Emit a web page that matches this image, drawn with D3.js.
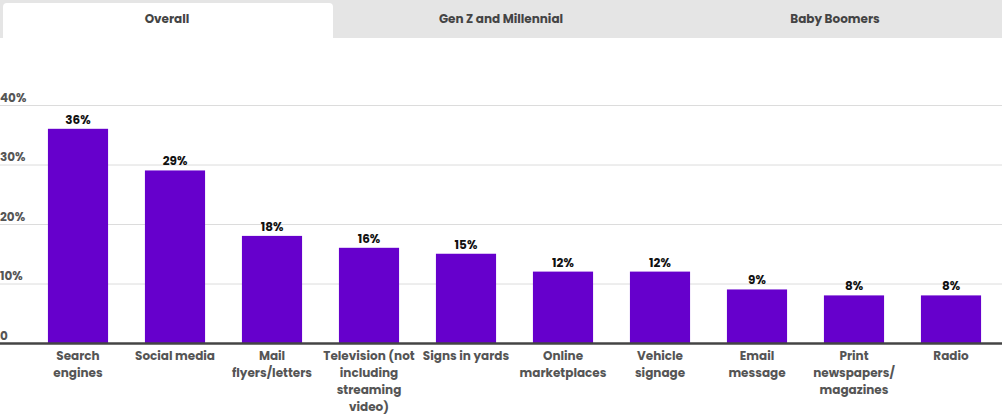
<!DOCTYPE html>
<html lang="en">
<head>
<meta charset="UTF-8">
<title>Overall</title>
<script src="https://cdn.jsdelivr.net/npm/d3@7"></script>
<style>
  html, body { margin: 0; padding: 0; background: #fff; }
  body { width: 1002px; height: 415px; overflow: hidden; font-family: Poppins, "Open Sans", sans-serif; }
</style>
</head>
<body>
<div id="chart"></div>
<script>
// tabs above the chart
const tabs = ["Overall", "Gen Z and Millennial", "Baby Boomers"];
const activeTab = 0;

// categories (axis label lines) and values in %
const categories = [
  ["Search", "engines"],
  ["Social media"],
  ["Mail", "flyers/letters"],
  ["Television (not", "including", "streaming", "video)"],
  ["Signs in yards"],
  ["Online", "marketplaces"],
  ["Vehicle", "signage"],
  ["Email", "message"],
  ["Print", "newspapers/", "magazines"],
  ["Radio"]
];
const values = [36, 29, 18, 16, 15, 12, 12, 9, 8, 8];
const yTicks = [0, 10, 20, 30, 40];

const width = 1002, height = 415;
const tabH = 38;
const y0 = 343, yTop = 105;

const svg = d3.select("#chart").append("svg")
  .attr("width", width)
  .attr("height", height)
  .attr("viewBox", [0, 0, width, height]);

// tab bar
const tabX = d3.scaleBand().domain(d3.range(tabs.length)).range([0, width]);
svg.append("rect").attr("x", 0).attr("y", 0).attr("width", width).attr("height", tabH).attr("fill", "#e5e5e5");
svg.append("path")
  .attr("d", () => {
    const x0 = tabX(activeTab) + 3, x1 = tabX(activeTab) + tabX.bandwidth() - 1, t = 3, r = 4;
    return `M${x0},${tabH}V${t + r}Q${x0},${t} ${x0 + r},${t}H${x1 - r}Q${x1},${t} ${x1},${t + r}V${tabH}Z`;
  })
  .attr("fill", "#fff");
svg.append("g").selectAll("text")
  .data(tabs)
  .join("text")
    .attr("x", (d, i) => tabX(i) + tabX.bandwidth() / 2)
    .attr("y", 23)
    .attr("text-anchor", "middle")
    .attr("font-size", 12)
    .attr("font-weight", 700)
    .attr("fill", "#444")
    .text(d => d);

// scales
const x = d3.scaleBand()
  .domain(d3.range(values.length))
  .range([29.5, 999.5])
  .paddingInner(0.38)
  .paddingOuter(0.19);

const y = d3.scaleLinear()
  .domain([0, 40])
  .range([y0, yTop]);

// grid + y labels
const yAxis = svg.append("g")
  .call(d3.axisLeft(y).tickValues(yTicks).tickSize(-width).tickFormat(d => d === 0 ? "0" : d + "%"))
  .call(g => g.select(".domain").remove())
  .call(g => g.selectAll(".tick line").attr("stroke", "#dcdcdc").attr("x1", 0).attr("x2", width))
  .call(g => g.selectAll(".tick text")
    .attr("x", 0).attr("dy", -4).attr("text-anchor", "start")
    .attr("font-family", "Poppins, 'Open Sans', sans-serif")
    .attr("font-size", 12).attr("font-weight", 700).attr("fill", "#555"));
yAxis.selectAll(".tick").filter(d => d === 0).select("line").remove();

// bars
svg.append("g")
  .attr("fill", "#6600cc")
  .selectAll("rect")
  .data(values)
  .join("rect")
    .attr("x", (d, i) => x(i))
    .attr("y", d => y(d))
    .attr("width", x.bandwidth())
    .attr("height", d => y(0) - y(d));

// value labels
svg.append("g")
  .selectAll("text")
  .data(values)
  .join("text")
    .attr("x", (d, i) => x(i) + x.bandwidth() / 2)
    .attr("y", d => y(d) - 5)
    .attr("text-anchor", "middle")
    .attr("font-size", 12)
    .attr("font-weight", 700)
    .attr("fill", "#111")
    .text(d => d + "%");

// baseline
svg.append("line")
  .attr("x1", 0).attr("x2", width)
  .attr("y1", y(0) + 0.5).attr("y2", y(0) + 0.5)
  .attr("stroke", "#444").attr("stroke-width", 2.5);

// category labels
svg.append("g")
  .selectAll("text")
  .data(categories)
  .join("text")
    .attr("x", (d, i) => x(i) + x.bandwidth() / 2)
    .attr("y", 360)
    .attr("text-anchor", "middle")
    .attr("font-size", 12)
    .attr("font-weight", 700)
    .attr("fill", "#555")
    .selectAll("tspan")
    .data(d => d)
    .join("tspan")
      .attr("x", function () { return this.parentNode.getAttribute("x"); })
      .attr("dy", (d, i) => i === 0 ? 0 : 17)
      .text(d => d);
</script>
</body>
</html>
